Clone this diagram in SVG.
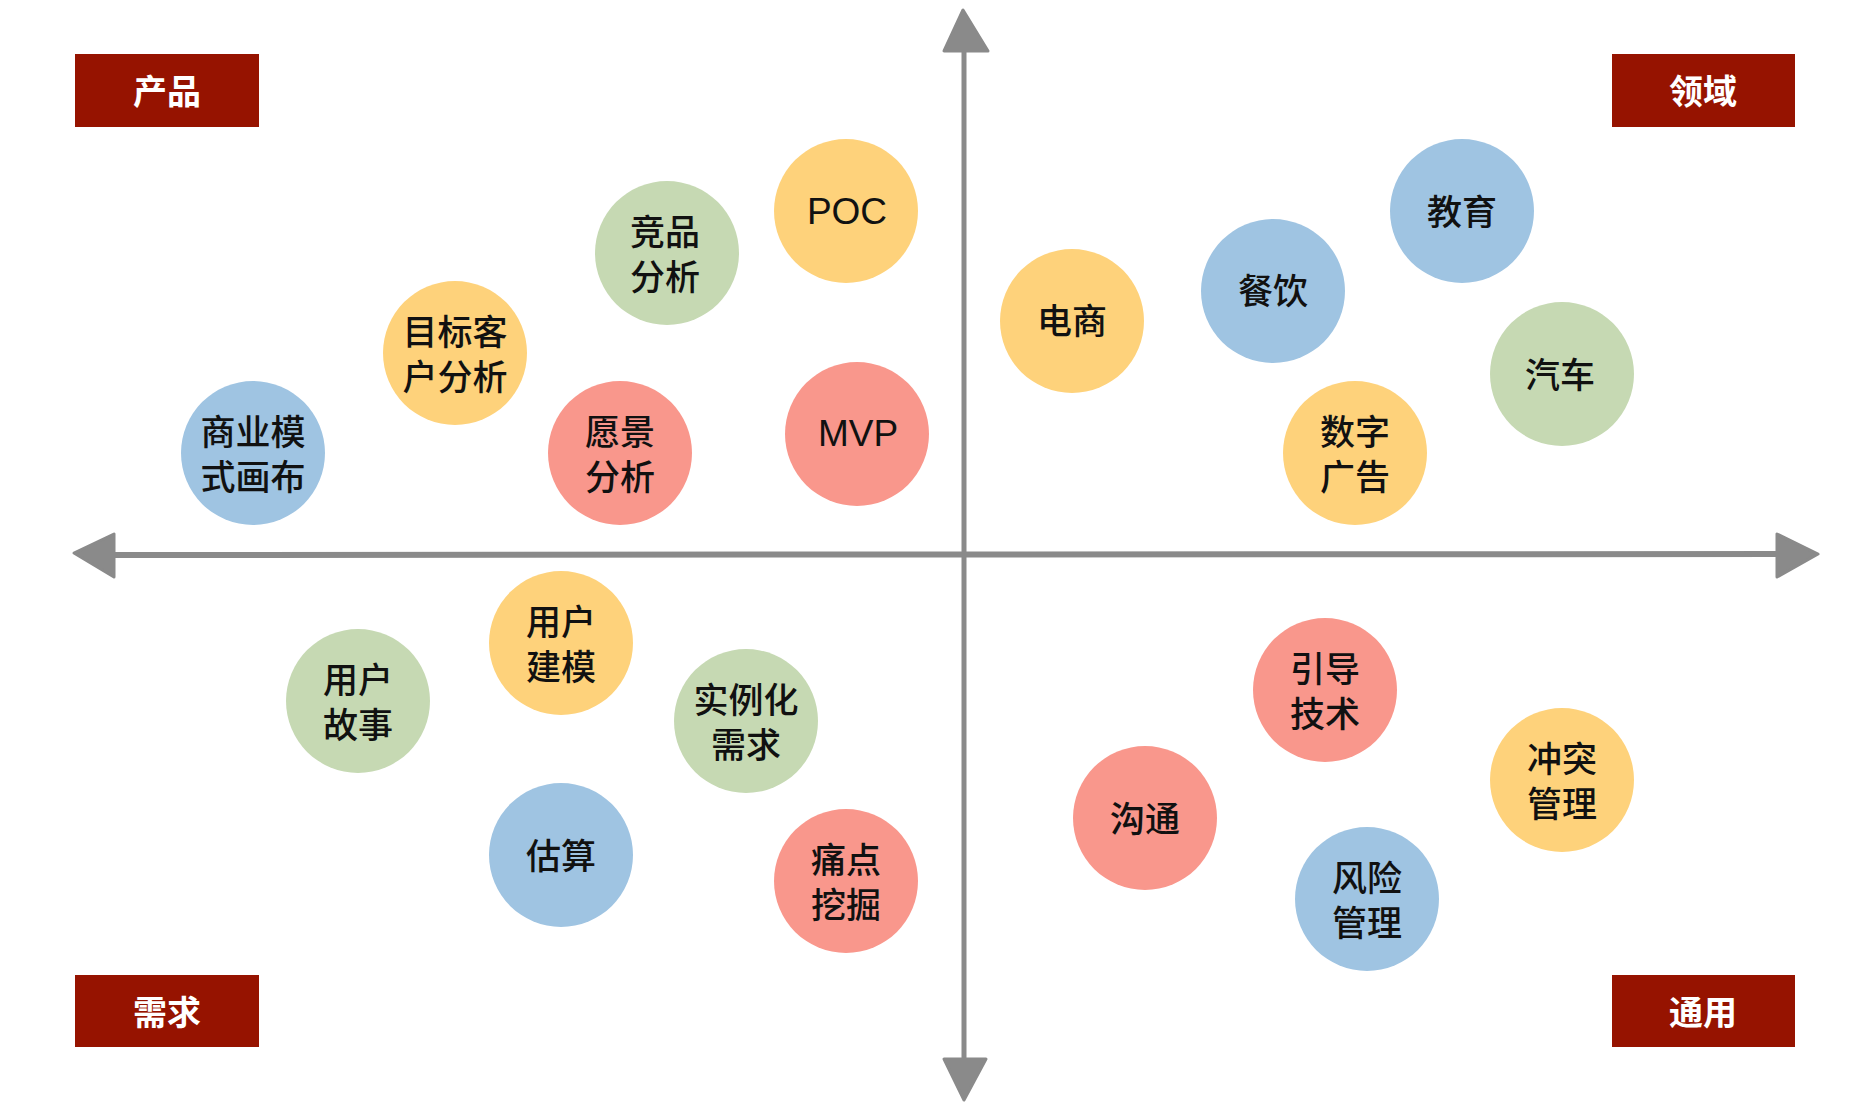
<svg xmlns="http://www.w3.org/2000/svg" width="1872" height="1110" viewBox="0 0 1872 1110">
<style>
.bg{fill:#ffffff}
.box{fill:#961300}
.boxt{fill:#ffffff;font-family:"Noto Sans CJK SC","Noto Sans CJK JP",sans-serif;font-size:34px;font-weight:bold;text-anchor:middle;dominant-baseline:central}
.y{fill:#FED27B}.g{fill:#C6D9B3}.b{fill:#9FC4E2}.r{fill:#F9978C}
.t{fill:#111111;font-family:"Noto Sans CJK SC","Noto Sans CJK JP",sans-serif;font-size:35px;font-weight:500;text-anchor:middle;dominant-baseline:central}
.lt{fill:#111111;font-family:"Liberation Sans",Arial,sans-serif;font-size:37px;text-anchor:middle;dominant-baseline:central}
.axis{stroke:#8a8a8a;fill:none;stroke-linecap:round}
.head{fill:#8a8a8a;stroke:#8a8a8a;stroke-width:3;stroke-linejoin:round}
</style>
<rect class="bg" x="0" y="0" width="1872" height="1110"/>
<g id="connectors">
<path class="axis" stroke-width="6" d="M112 555 L1780 554"/>
<path class="axis" stroke-width="5" d="M964 50 L964 1060"/>
<polygon class="head" points="74,553 114,534 114,577"/>
<polygon class="head" points="1818,554 1777,534 1777,577"/>
<polygon class="head" points="963,10 944,51 988,51"/>
<polygon class="head" points="964,1100 944,1059 986,1059"/>
</g>
<g id="label-product"><rect class="box" x="75" y="54" width="184" height="73"/><text class="boxt" x="167" y="89">产品</text></g>
<g id="label-domain"><rect class="box" x="1612" y="54" width="183" height="73"/><text class="boxt" x="1703" y="89">领域</text></g>
<g id="label-demand"><rect class="box" x="75" y="975" width="184" height="72"/><text class="boxt" x="167" y="1010">需求</text></g>
<g id="label-general"><rect class="box" x="1612" y="975" width="183" height="72"/><text class="boxt" x="1703" y="1010">通用</text></g>

<g id="n-jingpin"><circle class="g" cx="667" cy="253" r="72"/><text class="t" x="665" y="229">竞品</text><text class="t" x="665" y="274">分析</text></g>
<g id="n-poc"><circle class="y" cx="846" cy="211" r="72"/><text class="lt" x="847" y="211">POC</text></g>
<g id="n-mubiao"><circle class="y" cx="455" cy="353" r="72"/><text class="t" x="455" y="329">目标客</text><text class="t" x="455" y="374">户分析</text></g>
<g id="n-shangye"><circle class="b" cx="253" cy="453" r="72"/><text class="t" x="253" y="429">商业模</text><text class="t" x="253" y="474">式画布</text></g>
<g id="n-yuanjing"><circle class="r" cx="620" cy="453" r="72"/><text class="t" x="620" y="429">愿景</text><text class="t" x="620" y="474">分析</text></g>
<g id="n-mvp"><circle class="r" cx="857" cy="434" r="72"/><text class="lt" x="858" y="433">MVP</text></g>
<g id="n-dianshang"><circle class="y" cx="1072" cy="321" r="72"/><text class="t" x="1072" y="318">电商</text></g>
<g id="n-canyin"><circle class="b" cx="1273" cy="291" r="72"/><text class="t" x="1273" y="288">餐饮</text></g>
<g id="n-jiaoyu"><circle class="b" cx="1462" cy="211" r="72"/><text class="t" x="1462" y="209">教育</text></g>
<g id="n-qiche"><circle class="g" cx="1562" cy="374" r="72"/><text class="t" x="1560" y="372">汽车</text></g>
<g id="n-shuzi"><circle class="y" cx="1355" cy="453" r="72"/><text class="t" x="1355" y="429">数字</text><text class="t" x="1355" y="474">广告</text></g>

<g id="n-jianmo"><circle class="y" cx="561" cy="643" r="72"/><text class="t" x="561" y="619">用户</text><text class="t" x="561" y="664">建模</text></g>
<g id="n-gushi"><circle class="g" cx="358" cy="701" r="72"/><text class="t" x="358" y="677">用户</text><text class="t" x="358" y="722">故事</text></g>
<g id="n-shili"><circle class="g" cx="746" cy="721" r="72"/><text class="t" x="746" y="697">实例化</text><text class="t" x="746" y="742">需求</text></g>
<g id="n-gusuan"><circle class="b" cx="561" cy="855" r="72"/><text class="t" x="561" y="853">估算</text></g>
<g id="n-tongdian"><circle class="r" cx="846" cy="881" r="72"/><text class="t" x="846" y="857">痛点</text><text class="t" x="846" y="902">挖掘</text></g>
<g id="n-yindao"><circle class="r" cx="1325" cy="690" r="72"/><text class="t" x="1325" y="666">引导</text><text class="t" x="1325" y="711">技术</text></g>
<g id="n-chongtu"><circle class="y" cx="1562" cy="780" r="72"/><text class="t" x="1562" y="756">冲突</text><text class="t" x="1562" y="801">管理</text></g>
<g id="n-goutong"><circle class="r" cx="1145" cy="818" r="72"/><text class="t" x="1145" y="816">沟通</text></g>
<g id="n-fengxian"><circle class="b" cx="1367" cy="899" r="72"/><text class="t" x="1367" y="875">风险</text><text class="t" x="1367" y="920">管理</text></g>
</svg>
